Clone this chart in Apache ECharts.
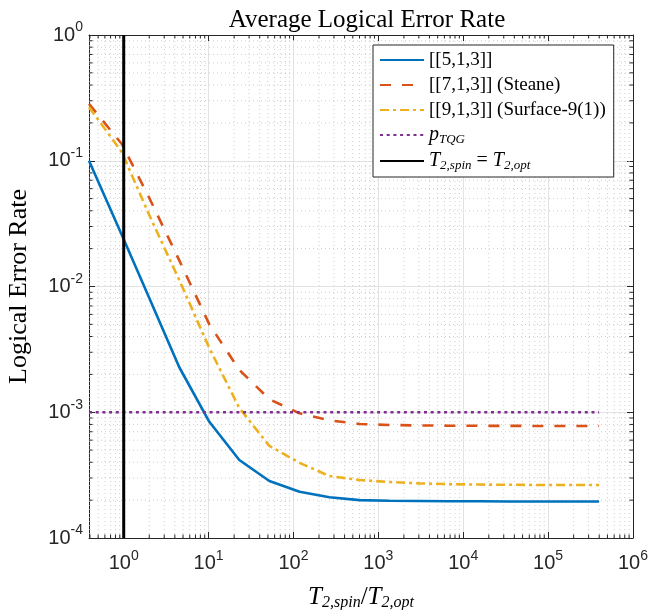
<!DOCTYPE html>
<html>
<head>
<meta charset="utf-8">
<script src="https://cdn.jsdelivr.net/npm/echarts@6/dist/echarts.min.js"></script>
<style>
  html, body { margin: 0; padding: 0; background: #fff; }
  #main { width: 653px; height: 610px; }
</style>
</head>
<body>
<div id="main"></div>
<script>
// T2,spin / T2,opt sample points
var xs = [0.39, 0.95, 2.0, 4.5, 10.2, 23, 52, 118, 265, 600, 1350, 3000, 6800, 15400, 34800, 78000, 176000, 398000];
// logical error rates
var code513 = [0.1, 0.0257, 0.0081, 0.00229, 8.4e-4, 4.17e-4, 2.84e-4, 2.33e-4, 2.11e-4, 2.0e-4, 1.98e-4, 1.97e-4, 1.96e-4, 1.96e-4, 1.95e-4, 1.95e-4, 1.95e-4, 1.95e-4];
var code713 = [0.283, 0.136, 0.0506, 0.0162, 5.0e-3, 2.17e-3, 1.27e-3, 9.8e-4, 8.63e-4, 8.07e-4, 7.92e-4, 7.85e-4, 7.82e-4, 7.8e-4, 7.79e-4, 7.78e-4, 7.78e-4, 7.78e-4];
var code913 = [0.267, 0.117, 0.037, 0.0113, 3.24e-3, 1.08e-3, 5.4e-4, 3.96e-4, 3.11e-4, 2.89e-4, 2.79e-4, 2.72e-4, 2.68e-4, 2.66e-4, 2.65e-4, 2.64e-4, 2.64e-4, 2.64e-4];
var pTQG = 1e-3;
var t2Opt = 1;

var xMin = 0.39, xMax = 1e6;
var yMin = 1e-4, yMax = 1;

var serif = '"Liberation Serif", "DejaVu Serif", serif';
var sans = '"Liberation Sans", Arial, sans-serif';
var axisColor = '#262626';

function pairs(x, y) {
	var out = [];
	for (var i = 0; i < x.length; i++) {
		out.push([x[i], y[i]]);
	}
	return out;
}

// minor grid positions (2..9 times each decade)
var minorLines = [];
for (var k = -1; k <= 5; k++) {
	for (var m = 2; m <= 9; m++) {
		var v = m * Math.pow(10, k);
		if (v > xMin && v < xMax) minorLines.push([v, 1, 0]);
	}
}
for (var k2 = -4; k2 <= -1; k2++) {
	for (var m2 = 2; m2 <= 9; m2++) {
		minorLines.push([1, m2 * Math.pow(10, k2), 1]);
	}
}

function powLabel(val) {
	var e = Math.log10(val);
	var r = Math.round(e);
	if (Math.abs(e - r) > 1e-6) return '';
	return '{b|10}{s|' + r + '}';
}

var labelRich = {
	b: { fontSize: 20, fontFamily: sans, color: axisColor },
	s: { fontSize: 14, fontFamily: sans, color: axisColor, padding: [0, 0, 15, 0] }
};

var chart = echarts.init(document.getElementById('main'));

var names = ['[[5,1,3]]', '[[7,1,3]] (Steane)', '[[9,1,3]] (Surface-9(1))', 'pTQG', 'T2line'];

var option = {
	animation: false,
	backgroundColor: '#fff',
	title: {
		text: 'Average Logical Error Rate',
		left: 362,
		top: 3,
		textAlign: 'center',
		textStyle: { fontFamily: serif, fontSize: 25, fontWeight: 'normal', color: '#000' }
	},
	grid: { left: 89, right: 20, top: 35, bottom: 72, containLabel: false, outerBoundsMode: 'none' },
	legend: {
		data: names,
		orient: 'vertical',
		left: 373,
		top: 45,
		padding: [5, 8, 5, 6],
		itemWidth: 44,
		itemHeight: 14,
		itemGap: 5,
		backgroundColor: '#fff',
		borderColor: axisColor,
		borderWidth: 1,
		borderRadius: 0,
		itemStyle: { opacity: 0 },
		formatter: function(name) {
			if (name === 'pTQG') return '{i|p}{sub|TQG}';
			if (name === 'T2line') return '{i|T}{sub|2,spin}{n| = }{i|T}{sub|2,opt}';
			return name;
		},
		textStyle: {
			fontFamily: serif, fontSize: 19, color: '#000', lineHeight: 20,
			rich: {
				i: { fontFamily: serif, fontSize: 20, fontStyle: 'italic', color: '#000' },
				n: { fontFamily: serif, fontSize: 20, color: '#000' },
				sub: { fontFamily: serif, fontSize: 13, fontStyle: 'italic', color: '#000', padding: [9, 0, 0, 0] }
			}
		}
	},
	xAxis: [{
		type: 'log',
		logBase: 10,
		min: xMin,
		max: xMax,
		name: '{i|T}{sub|2,spin}{n|/}{i|T}{sub|2,opt}',
		nameLocation: 'middle',
		nameGap: 46,
		nameTextStyle: {
			rich: {
				i: { fontFamily: serif, fontSize: 25, fontStyle: 'italic', color: '#000' },
				n: { fontFamily: serif, fontSize: 25, color: '#000' },
				sub: { fontFamily: serif, fontSize: 16, fontStyle: 'italic', color: '#000', padding: [11, 0, 0, 0] }
			}
		},
		axisLine: { show: true, lineStyle: { color: axisColor, width: 1 } },
		axisTick: { inside: true, length: 6, lineStyle: { color: axisColor } },
		axisLabel: { formatter: powLabel, rich: labelRich, margin: 11, showMinLabel: true, showMaxLabel: true },
		splitLine: { show: true, lineStyle: { color: '#e3e3e3', width: 1 } },
		minorTick: { show: false }
	}, {
		type: 'log',
		logBase: 10,
		min: xMin,
		max: xMax,
		position: 'top',
		axisLine: { show: true, lineStyle: { color: axisColor, width: 1 } },
		axisTick: { inside: true, length: 6, lineStyle: { color: axisColor } },
		axisLabel: { show: false },
		splitLine: { show: false }
	}],
	yAxis: [{
		type: 'log',
		logBase: 10,
		min: yMin,
		max: yMax,
		name: 'Logical Error Rate',
		nameLocation: 'middle',
		nameGap: 57,
		nameRotate: 90,
		nameTextStyle: { fontFamily: serif, fontSize: 26, color: '#000' },
		axisLine: { show: true, lineStyle: { color: axisColor, width: 1 } },
		axisTick: { inside: true, length: 6, lineStyle: { color: axisColor } },
		axisLabel: { formatter: powLabel, rich: labelRich, margin: 6 },
		splitLine: { show: true, lineStyle: { color: '#e3e3e3', width: 1 } }
	}, {
		type: 'log',
		logBase: 10,
		min: yMin,
		max: yMax,
		position: 'right',
		axisLine: { show: true, lineStyle: { color: axisColor, width: 1 } },
		axisTick: { inside: true, length: 6, lineStyle: { color: axisColor } },
		axisLabel: { show: false },
		splitLine: { show: false }
	}],
	series: [{
		// dotted minor grid plus minor ticks on all four sides
		type: 'custom',
		name: 'minor',
		silent: true,
		z: 1,
		data: minorLines,
		encode: { x: 0, y: 1 },
		renderItem: function(params, api) {
			var kind = api.value(2);
			var a, b, t1, t2;
			if (kind === 0) {
				a = api.coord([api.value(0), yMin]);
				b = api.coord([api.value(0), yMax]);
				t1 = [a[0], a[1] - 3.5];
				t2 = [b[0], b[1] + 3.5];
			} else {
				a = api.coord([xMin, api.value(1)]);
				b = api.coord([xMax, api.value(1)]);
				t1 = [a[0] + 3.5, a[1]];
				t2 = [b[0] - 3.5, b[1]];
			}
			return {
				type: 'group',
				children: [{
					type: 'line',
					shape: { x1: a[0], y1: a[1], x2: b[0], y2: b[1] },
					style: { stroke: '#cfcfcf', lineWidth: 1, lineDash: [1, 3] }
				}, {
					type: 'line',
					shape: { x1: a[0], y1: a[1], x2: t1[0], y2: t1[1] },
					style: { stroke: axisColor, lineWidth: 1 }
				}, {
					type: 'line',
					shape: { x1: b[0], y1: b[1], x2: t2[0], y2: t2[1] },
					style: { stroke: axisColor, lineWidth: 1 }
				}]
			};
		}
	}, {
		name: names[0],
		type: 'line',
		data: pairs(xs, code513),
		symbol: 'none',
		z: 3,
		lineStyle: { color: '#0072BD', width: 2.6 },
		itemStyle: { color: '#0072BD' }
	}, {
		name: names[1],
		type: 'line',
		data: pairs(xs, code713),
		symbol: 'none',
		z: 3,
		lineStyle: { color: '#D95319', width: 2.6, type: [11, 11] },
		itemStyle: { color: '#D95319' }
	}, {
		name: names[2],
		type: 'line',
		data: pairs(xs, code913),
		symbol: 'none',
		z: 3,
		lineStyle: { color: '#EDB120', width: 2.6, type: [9, 4, 3, 4] },
		itemStyle: { color: '#EDB120' }
	}, {
		name: names[3],
		type: 'line',
		data: [[xs[0], pTQG], [xs[xs.length - 1], pTQG]],
		symbol: 'none',
		z: 3,
		lineStyle: { color: '#7E2F8E', width: 2.6, type: [3, 3.7] },
		itemStyle: { color: '#7E2F8E' }
	}, {
		name: names[4],
		type: 'line',
		data: [[t2Opt, yMin], [t2Opt, yMax]],
		symbol: 'none',
		z: 4,
		lineStyle: { color: '#000', width: 3 },
		itemStyle: { color: '#000' }
	}]
};

chart.setOption(option);
</script>
</body>
</html>
